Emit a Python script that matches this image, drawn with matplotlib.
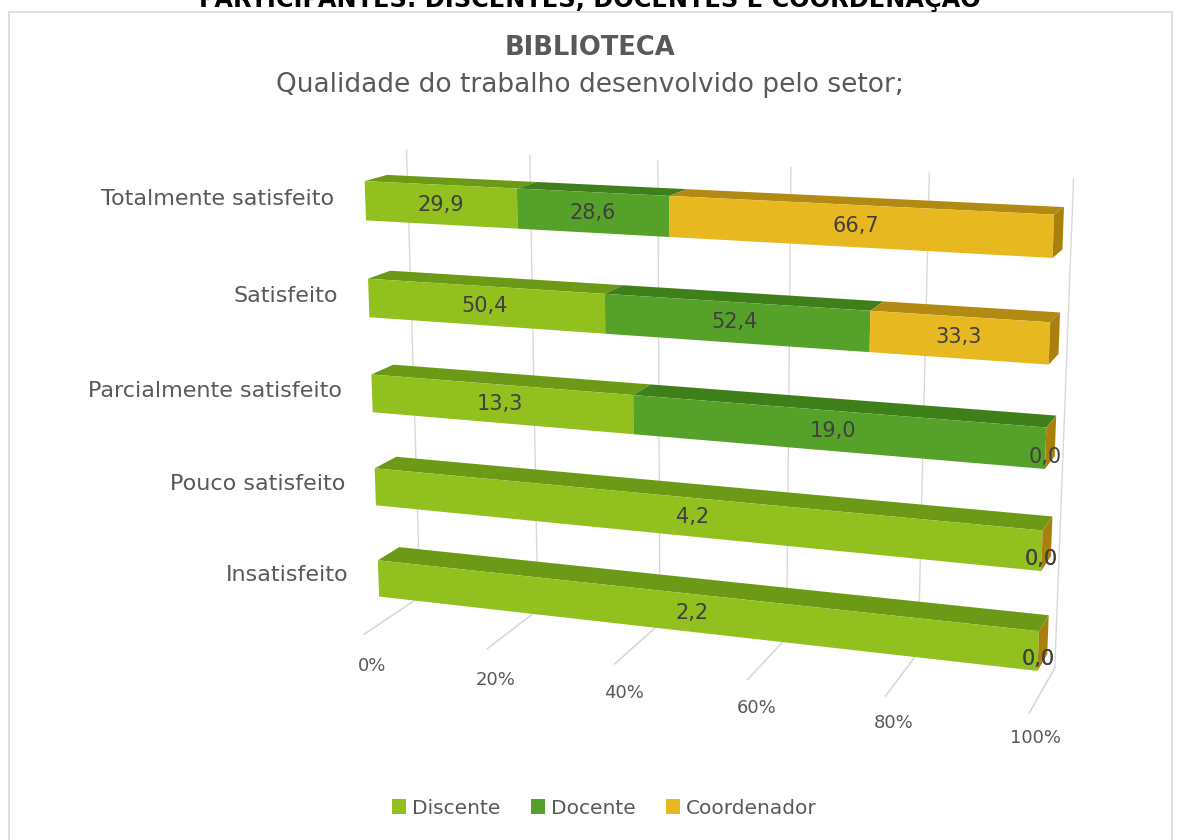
import numpy as np
import matplotlib
matplotlib.use('Agg')
import matplotlib.pyplot as plt
from matplotlib.patches import Rectangle, Patch

# dados
categorias = ['Insatisfeito', 'Pouco satisfeito', 'Parcialmente satisfeito',
              'Satisfeito', 'Totalmente satisfeito']
discente = [2.2, 4.2, 13.3, 50.4, 29.9]
docente = [0.0, 0.0, 19.0, 52.4, 28.6]
coordenador = [0.0, 0.0, 0.0, 33.3, 66.7]
series = ['Discente', 'Docente', 'Coordenador']
ticks_pct = [0, 20, 40, 60, 80, 100]

cor_frente = ['#92C01F', '#56A12A', '#E8B820']
cor_topo = ['#6C9A16', '#3E7F1A', '#B08A12']
cor_lado = ['#6C9A16', '#3E7F1A', '#A9800C']

plt.rcParams['font.family'] = ['DejaVu Sans']

valores = np.array([discente, docente, coordenador])
total = valores.sum(axis=0)
pct = valores / total * 100
inicio = np.vstack([np.zeros(len(categorias)), np.cumsum(pct, axis=0)[:-1]])

fig = plt.figure(figsize=(11.79, 8.4), dpi=100)
ax = fig.add_axes([0.2 + 7 / 1179, -4 / 840, 0.76, 1.0], projection='3d',
                  computed_zorder=False)
ax.set_proj_type('persp', focal_length=0.5)
ax.view_init(elev=13.5, azim=-71)
ax.set_box_aspect((7.0, 1.32, 5.0), zoom=1.01)
ax.set_xlim(0, 100)
ax.set_ylim(0, 1)
ax.set_zlim(-0.5, 4.5)
ax.set_axis_off()

z_cat = np.arange(len(categorias))
alt = 0.4
y0, prof = 0.27, 0.38
piso = -0.5
topo = 4.4

# linhas de grade (parede do fundo e piso)
for t in ticks_pct:
    ax.plot([t, t], [1, 1], [piso, topo], color='#D9D9D9', lw=1, zorder=1)
    ax.plot([t, t], [0, 1], [piso, piso], color='#D9D9D9', lw=1.2, zorder=1)
    ax.text(t, 0.1 + t / 500, piso - 0.4, f'{t}%', ha='center', va='center',
            fontsize=13, color='#595959', zorder=5)

nada = (0, 0, 0, 0)
for k in range(3):
    faces = []
    for i in range(len(categorias)):
        lado = cor_lado[k] if k == 2 else nada
        faces += [nada, cor_topo[k], cor_frente[k], nada, nada, lado]
    ax.bar3d(inicio[k], np.full(len(categorias), y0), z_cat - alt / 2,
             pct[k], np.full(len(categorias), prof), np.full(len(categorias), alt),
             color=faces, shade=False, linewidth=0, zorder=2 + k * 0.1)

# rotulos de dados (os zeros ficam um pouco abaixo, como no original)
for k in range(3):
    for i in range(len(categorias)):
        xm = inicio[k][i] + pct[k][i] / 2
        dz = -0.08 if valores[k][i] == 0 else 0
        ax.text(xm, y0, z_cat[i] + dz, f'{valores[k][i]:.1f}'.replace('.', ','),
                ha='center', va='center', fontsize=15, color='#404040', zorder=6)

for i, c in enumerate(categorias):
    ax.text(-5, y0, z_cat[i], c, ha='right', va='center', fontsize=16,
            color='#595959', zorder=6)

fig.text(0.5, 1 - 7 / 840, 'PARTICIPANTES: DISCENTES, DOCENTES E COORDENAÇÃO',
         ha='center', va='baseline', fontsize=17.3, weight='bold', color='black')
fig.text(0.5, 1 - 48 / 840, 'BIBLIOTECA', ha='center', va='center',
         fontsize=18.5, weight='bold', color='#595959')
fig.text(0.5, 1 - 85 / 840, 'Qualidade do trabalho desenvolvido pelo setor;',
         ha='center', va='center', fontsize=19, color='#595959')

fig.add_artist(Rectangle((9 / 1179, -0.02), 1163 / 1179, (828 + 17) / 840,
                         transform=fig.transFigure, fill=False,
                         edgecolor='#D9D9D9', lw=1.2))

handles = [Patch(facecolor=cor_frente[k], label=series[k]) for k in range(3)]
fig.legend(handles=handles, loc='center', bbox_to_anchor=(0.5 + 15 / 1179, 1 - 808 / 840),
           ncol=3, frameon=False, fontsize=14.5, handlelength=0.7, handleheight=0.7,
           handletextpad=0.3, columnspacing=1.5, labelcolor='#595959')

fig.savefig('out.png', dpi=100)
